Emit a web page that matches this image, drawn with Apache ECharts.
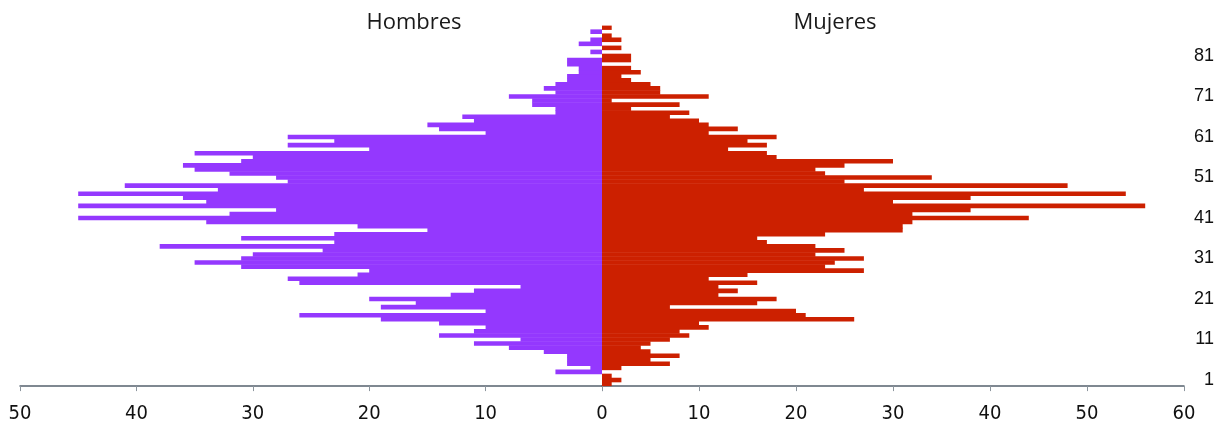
<!DOCTYPE html>
<html>
<head>
<meta charset="utf-8">
<script src="https://cdn.jsdelivr.net/npm/echarts@6/dist/echarts.min.js"></script>
<style>
html,body{margin:0;padding:0;background:#fff;}
#chart{width:1230px;height:432px;}
</style>
</head>
<body>
<div id="chart"></div>
<script>
// Ages 0..88 (bottom to top)
const ages = [];
for (let a = 0; a <= 88; a++) ages.push(String(a));

// Hombres (left, purple) by age 0..88
const hombres = [0,0,0,4,1,3,3,3,5,8,
  11,7,14,11,10,14,19,26,10,19,
  16,20,13,11,7,26,27,21,20,31,
  35,31,30,24,38,23,31,23,15,21,
  34,45,32,28,45,34,36,45,33,41,
  27,28,32,35,36,31,30,35,20,27,
  23,27,10,14,15,11,12,4,4,6,
  6,8,4,5,4,3,3,2,2,3,
  3,0,1,0,2,1,0,1,0];

// Mujeres (right, red) by age 0..88
const mujeres = [1,2,1,0,2,7,5,8,5,4,
  5,7,9,8,11,10,26,21,20,7,
  16,18,12,14,12,16,11,15,27,23,
  24,27,22,25,22,17,16,23,31,31,
  32,44,32,38,56,30,38,54,27,48,
  25,34,23,22,25,30,18,17,13,17,
  15,18,11,14,11,10,7,9,3,8,
  1,11,6,6,5,3,2,4,3,0,
  3,3,0,2,0,2,1,0,1];

const leftTicks = [0, 50, 10];   // min, max, interval
const rightTicks = [0, 60, 10];
const titles = ['Hombres', 'Mujeres'];

const axisColor = '#56626e';
const tickColor = '#8c959d';
const labelFont = "'DejaVu Sans Condensed','Liberation Sans Narrow','Liberation Sans',sans-serif";

const chart = echarts.init(document.getElementById('chart'), null, {renderer: 'canvas'});

const gridTop = 25.6, gridBottom = 45.9;

const option = {
  animation: false,
  backgroundColor: '#ffffff',
  graphic: [
    {type: 'text', x: 414, y: 23, style: {text: titles[0], font: "22px 'Open Sans', sans-serif", fill: '#1a1a1a', align: 'center', verticalAlign: 'middle', textAlign: 'center', textVerticalAlign: 'middle'}},
    {type: 'text', x: 835, y: 23, style: {text: titles[1], font: "22px 'Open Sans', sans-serif", fill: '#1a1a1a', align: 'center', verticalAlign: 'middle', textAlign: 'center', textVerticalAlign: 'middle'}}
  ],
  grid: [
    {left: 20, width: 582, top: gridTop, bottom: gridBottom, containLabel: false},
    {left: 602, width: 582, top: gridTop, bottom: gridBottom, containLabel: false}
  ],
  xAxis: [
    {
      gridIndex: 0, type: 'value', inverse: true,
      min: leftTicks[0], max: leftTicks[1], interval: leftTicks[2],
      axisLine: {show: true, lineStyle: {color: axisColor, width: 1.5}},
      axisTick: {show: true, length: 5, lineStyle: {color: tickColor}},
      splitLine: {show: false},
      axisLabel: {
        margin: 18, color: '#111', fontSize: 20, fontFamily: labelFont,
        formatter: v => (v === 0 ? '' : String(v))
      }
    },
    {
      gridIndex: 1, type: 'value',
      min: rightTicks[0], max: rightTicks[1], interval: rightTicks[2],
      axisLine: {show: true, lineStyle: {color: axisColor, width: 1.5}},
      axisTick: {show: true, length: 5, lineStyle: {color: tickColor}},
      splitLine: {show: false},
      axisLabel: {margin: 18, color: '#111', fontSize: 20, fontFamily: labelFont}
    }
  ],
  yAxis: [
    {
      gridIndex: 0, type: 'category', data: ages,
      axisLine: {show: false}, axisTick: {show: false}, axisLabel: {show: false}, splitLine: {show: false}
    },
    {
      gridIndex: 1, type: 'category', data: ages, position: 'right',
      axisLine: {show: false}, axisTick: {show: false}, splitLine: {show: false},
      axisLabel: {
        show: true, margin: 30, align: 'right', color: '#111', fontSize: 18,
        fontFamily: "'Liberation Sans',Arial,sans-serif",
        interval: (idx, val) => Number(val) % 10 === 1
      }
    }
  ],
  series: [
    {
      name: titles[0], type: 'bar', xAxisIndex: 0, yAxisIndex: 0,
      data: hombres, barWidth: 4.6,
      itemStyle: {color: '#9438fe'}
    },
    {
      name: titles[1], type: 'bar', xAxisIndex: 1, yAxisIndex: 1,
      data: mujeres, barWidth: 4.6,
      itemStyle: {color: '#cc2000'}
    }
  ]
};
chart.setOption(option);
</script>
</body>
</html>
